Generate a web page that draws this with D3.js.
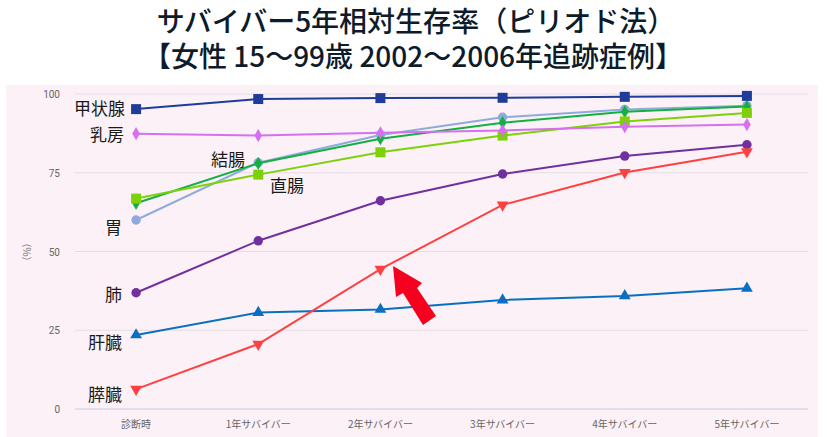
<!DOCTYPE html>
<html>
<head>
<meta charset="utf-8">
<script src="https://cdn.jsdelivr.net/npm/d3@7"></script>
<style>
  body { margin: 0; background: #fff; }
  svg { display: block; font-family: "Noto Sans CJK JP", "Noto Sans", sans-serif; }
</style>
</head>
<body>
<svg id="chart" width="827" height="437"></svg>
<script>
// カテゴリ（x軸）
var categories = ["診断時", "1年サバイバー", "2年サバイバー", "3年サバイバー", "4年サバイバー", "5年サバイバー"];
var yTicks = [0, 25, 50, 75, 100];

// 部位ごとの値（%）
var thyroid  = [95.2, 98.4, 98.7, 98.8, 99.1, 99.4];
var breast   = [87.4, 86.8, 87.7, 88.4, 89.6, 90.3];
var colon    = [65.3, 78.0, 85.8, 90.9, 94.4, 96.0];
var rectum   = [66.8, 74.4, 81.5, 86.8, 91.3, 94.0];
var stomach  = [60.0, 78.2, 87.0, 92.6, 95.1, 96.3];
var lung     = [36.9, 53.4, 66.1, 74.6, 80.3, 83.9];
var liver    = [23.5, 30.6, 31.6, 34.6, 35.9, 38.3];
var pancreas = [6.3, 20.6, 44.4, 64.8, 75.1, 81.7];

var series = [
  {name: "胃",     values: stomach,  color: "#8fabdc", shape: "circle",  size: 70},
  {name: "結腸",   values: colon,    color: "#12b040", shape: "diamond", size: 50},
  {name: "直腸",   values: rectum,   color: "#7dd10a", shape: "square",  size: 100},
  {name: "乳房",   values: breast,   color: "#d670f0", shape: "diamond", size: 50},
  {name: "肺",     values: lung,     color: "#7030a0", shape: "circle",  size: 70},
  {name: "肝臓",   values: liver,    color: "#0a6fc2", shape: "triup",   size: 60},
  {name: "膵臓",   values: pancreas, color: "#ff4040", shape: "tridown", size: 60},
  {name: "甲状腺", values: thyroid,  color: "#1f3c99", shape: "square",  size: 100}
];

// 系列ラベルの位置（anchor, x, y）
var labels = [
  {text: "甲状腺", x: 125, y: 115, anchor: "end"},
  {text: "乳房",   x: 124, y: 141, anchor: "end"},
  {text: "結腸",   x: 211, y: 166, anchor: "start"},
  {text: "直腸",   x: 270, y: 192, anchor: "start"},
  {text: "胃",     x: 122, y: 234, anchor: "end"},
  {text: "肺",     x: 122, y: 301, anchor: "end"},
  {text: "肝臓",   x: 122, y: 349, anchor: "end"},
  {text: "膵臓",   x: 122, y: 401, anchor: "end"}
];

var svg = d3.select("#chart");

// タイトル
svg.append("text").attr("x", 416).attr("y", 32).attr("text-anchor", "middle")
  .attr("font-size", 28).attr("font-weight", 500).attr("fill", "#0d1b2a")
  .text("サバイバー5年相対生存率（ピリオド法）");
svg.append("text").attr("x", 413).attr("y", 67).attr("text-anchor", "middle")
  .attr("font-size", 28).attr("font-weight", 500).attr("fill", "#0d1b2a")
  .text("【女性 15～99歳 2002～2006年追跡症例】");

// 背景
svg.append("rect").attr("x", 6).attr("y", 85).attr("width", 812).attr("height", 352).attr("fill", "#fbf1f6");

var x = d3.scalePoint().domain(categories).range([75, 808]).padding(0.5);
var y = d3.scaleLinear().domain([0, 100]).range([409, 94]);

// グリッド
svg.append("g").selectAll("line").data(yTicks.filter(function(d){ return d > 0; })).enter()
  .append("line")
  .attr("x1", 75).attr("x2", 808)
  .attr("y1", function(d){ return y(d); }).attr("y2", function(d){ return y(d); })
  .attr("stroke", "#e4dee4").attr("stroke-width", 1);
svg.append("line").attr("x1", 75).attr("x2", 808).attr("y1", y(0)).attr("y2", y(0))
  .attr("stroke", "#c9cde2").attr("stroke-width", 1);

// y軸ラベル
svg.append("g").selectAll("text").data(yTicks).enter().append("text")
  .attr("x", 60).attr("y", function(d){ return y(d) + 4; })
  .attr("text-anchor", "end").attr("font-size", 10).attr("fill", "#666")
  .attr("font-family", "Roboto, sans-serif")
  .text(function(d){ return d; });
svg.append("text").attr("transform", "translate(31,252) rotate(-90)")
  .attr("text-anchor", "middle").attr("font-size", 10).attr("fill", "#777")
  .text("（%）");

// x軸ラベル
svg.append("g").selectAll("text").data(categories).enter().append("text")
  .attr("x", function(d){ return x(d); }).attr("y", 428)
  .attr("text-anchor", "middle").attr("font-size", 10).attr("fill", "#666")
  .text(function(d){ return d; });

// 線とマーカー
var line = d3.line()
  .x(function(d, i){ return x(categories[i]); })
  .y(function(d){ return y(d); });

var symbols = {
  circle: d3.symbolCircle, diamond: d3.symbolDiamond, square: d3.symbolSquare,
  triup: d3.symbolTriangle, tridown: d3.symbolTriangle
};

series.forEach(function(s){
  var g = svg.append("g");
  g.append("path").attr("d", line(s.values))
    .attr("fill", "none").attr("stroke", s.color).attr("stroke-width", 2);
  g.selectAll("path.m").data(s.values).enter().append("path").attr("class", "m")
    .attr("d", d3.symbol().type(symbols[s.shape]).size(s.size))
    .attr("transform", function(d, i){
      return "translate(" + x(categories[i]) + "," + y(d) + ")" + (s.shape == "tridown" ? " rotate(180)" : "");
    })
    .attr("fill", s.color);
});

// 系列ラベル
svg.append("g").selectAll("text").data(labels).enter().append("text")
  .attr("x", function(d){ return d.x; }).attr("y", function(d){ return d.y; })
  .attr("text-anchor", function(d){ return d.anchor; })
  .attr("font-size", 17).attr("fill", "#1a1a1a")
  .text(function(d){ return d.text; });

// 矢印（注釈）
svg.append("path")
  .attr("d", "M393,266 L396,297 L403,293 L423,325 L436,316 L417,288 L422,283 Z")
  .attr("fill", "#f5001e");
</script>
</body>
</html>
